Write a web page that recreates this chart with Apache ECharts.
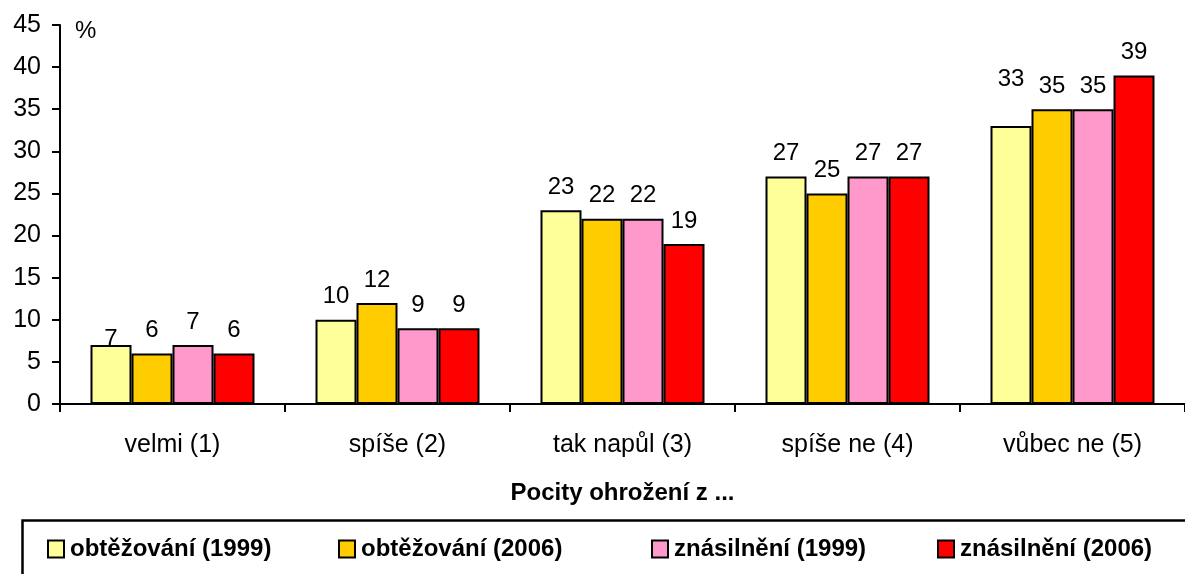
<!DOCTYPE html>
<html>
<head>
<meta charset="utf-8">
<script src="https://cdn.jsdelivr.net/npm/echarts@6/dist/echarts.min.js"></script>
<style>
  html, body { margin: 0; padding: 0; background: #fff; }
  #chart { width: 1185px; height: 574px; }
</style>
</head>
<body>
<div id="chart"></div>
<script>
// categories on the x axis
var categories = ['velmi (1)', 'spíše (2)', 'tak napůl (3)', 'spíše ne (4)', 'vůbec ne (5)'];
var seriesNames = ['obtěžování (1999)', 'obtěžování (2006)', 'znásilnění (1999)', 'znásilnění (2006)'];
// values in %
var obtezovani1999 = [7, 10, 23, 27, 33];
var obtezovani2006 = [6, 12, 22, 25, 35];
var znasilneni1999 = [7, 9, 22, 27, 35];
var znasilneni2006 = [6, 9, 19, 27, 39];
var yTicks = [0, 5, 10, 15, 20, 25, 30, 35, 40, 45];

var colors = ['#FFFF99', '#FFCC00', '#FF99CC', '#FF0000'];
var font = '"Liberation Sans", Arial, sans-serif';
var legendLeft = [47, 338, 651, 937];

var myChart = echarts.init(document.getElementById('chart'));

function bar(i, data) {
  return {
    name: seriesNames[i],
    type: 'bar',
    data: data,
    barWidth: 41,
    barGap: '0%',
    itemStyle: { color: colors[i], borderColor: '#000', borderWidth: 2 },
    label: {
      show: true,
      position: 'top',
      distance: 11,
      color: '#000',
      fontFamily: font,
      fontSize: 24
    }
  };
}

var series = [
  bar(0, obtezovani1999),
  bar(1, obtezovani2006),
  bar(2, znasilneni1999),
  bar(3, znasilneni2006)
];
// the original puts a couple of labels out of line
series[0].labelLayout = function (p) {
  if (p.dataIndex === 0) return { dy: 17 };
  if (p.dataIndex === 4) return { dy: -24 };
  return {};
};

var option = {
  backgroundColor: '#fff',
  animation: false,
  grid: { left: 60, top: 25, width: 1132, height: 379 },
  legend: seriesNames.map(function (n, i) {
    return {
      data: [n],
      left: legendLeft[i],
      top: 537,
      padding: 0,
      itemWidth: 16,
      itemHeight: 17,
      itemGap: 0,
      icon: 'rect',
      textStyle: { fontFamily: font, fontSize: 24, fontWeight: 'bold', color: '#000', padding: [0, 0, 0, 1] }
    };
  }),
  graphic: [
    {
      type: 'rect',
      left: 20, top: 518,
      shape: { width: 1200, height: 100 },
      style: { fill: 'none', stroke: '#000', lineWidth: 2.5 },
      z: -1
    },
    {
      type: 'text',
      left: 75, top: 19,
      style: { text: '%', font: '24px ' + font, fill: '#000' }
    }
  ],
  xAxis: {
    type: 'category',
    data: categories,
    axisLine: { lineStyle: { color: '#000', width: 2 } },
    axisTick: { show: true, interval: 0, length: 8, lineStyle: { color: '#000', width: 2 } },
    axisLabel: { color: '#000', fontFamily: font, fontSize: 25, margin: 29 },
    name: 'Pocity ohrožení z ...',
    nameLocation: 'middle',
    nameGap: 77,
    nameTextStyle: { color: '#000', fontFamily: font, fontSize: 24, fontWeight: 'bold' }
  },
  yAxis: {
    type: 'value',
    min: yTicks[0],
    max: yTicks[yTicks.length - 1],
    interval: 5,
    splitLine: { show: false },
    axisLine: { show: true, lineStyle: { color: '#000', width: 2 } },
    axisTick: { show: true, length: 8, lineStyle: { color: '#000', width: 2 } },
    axisLabel: { color: '#000', fontFamily: font, fontSize: 25, margin: 19 }
  },
  series: series
};

myChart.setOption(option);
</script>
</body>
</html>
